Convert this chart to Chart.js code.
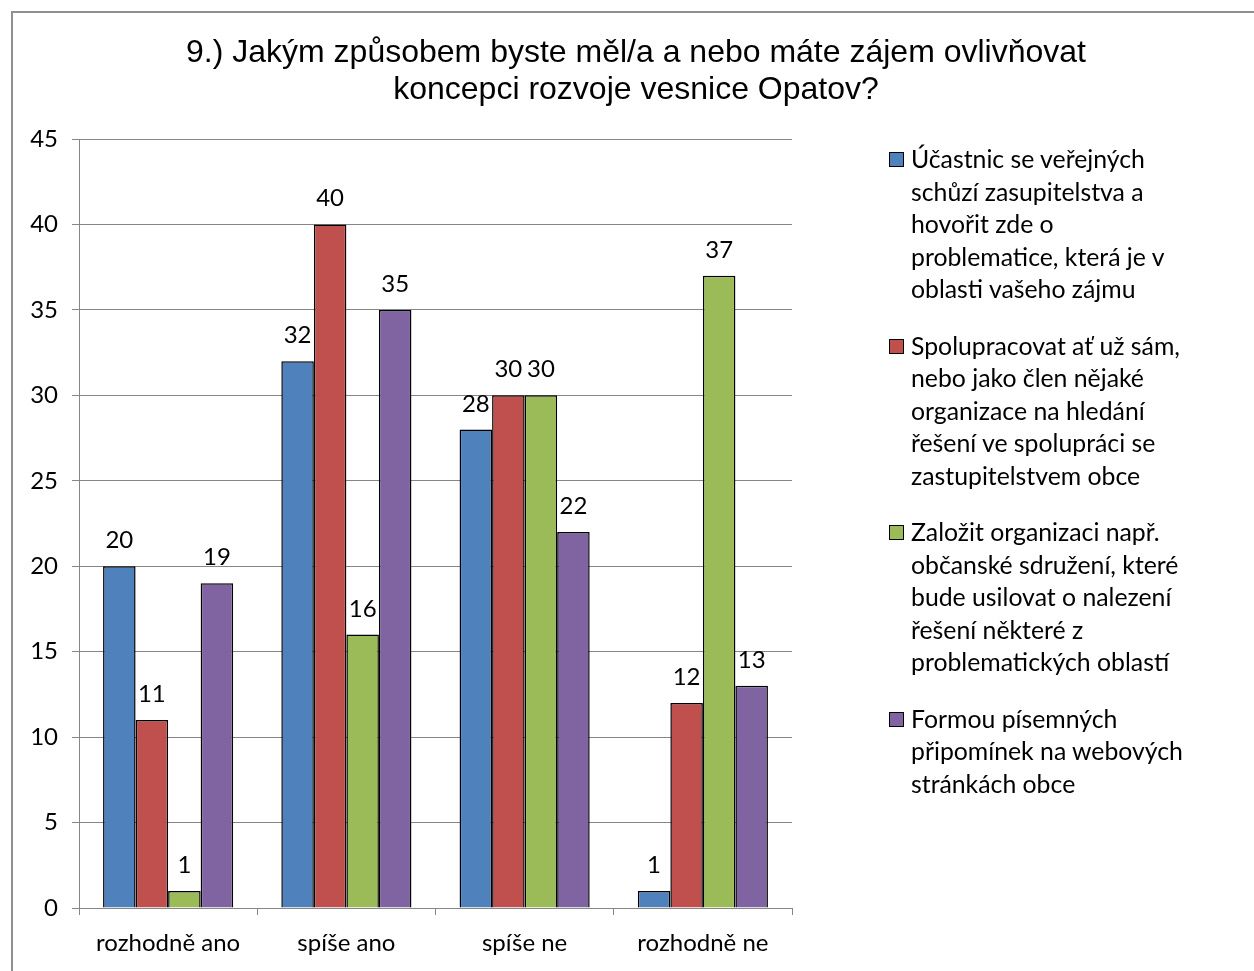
<!DOCTYPE html>
<html>
<head>
<meta charset="utf-8">
<script src="https://cdn.jsdelivr.net/npm/chart.js@4.4.1/dist/chart.umd.min.js"></script>
<style>
  html, body { margin:0; padding:0; width:1254px; height:971px; overflow:hidden; background:#fff; }
  #frame { position:absolute; left:11px; top:11px; width:1400px; height:1100px; border:2px solid #8f8f8f; box-sizing:border-box; }
  #wrap { position:absolute; left:0; top:0; width:1254px; height:971px; }
  #title { position:absolute; left:0; width:1272px; top:33px; text-align:center; font-family:"Liberation Sans", Arial, sans-serif; font-size:32px; line-height:37px; color:#000; }
  #legend { position:absolute; left:889px; top:143px; font-family:Lato, "Open Sans", sans-serif; font-size:24.8px; line-height:32.5px; color:#000; }
  .item { position:relative; padding-left:22px; margin-bottom:24px; }
  .sw { position:absolute; left:0; top:9px; width:13px; height:13px; border:1px solid #000; }
</style>
</head>
<body>
<div id="frame"></div>
<div id="wrap"><canvas id="c" width="1254" height="971"></canvas></div>
<div id="title">9.) Jakým způsobem byste měl/a a nebo máte zájem ovlivňovat<br>koncepci rozvoje vesnice Opatov?</div>
<div id="legend"></div>
<script>
const categories = ["rozhodně ano", "spíše ano", "spíše ne", "rozhodně ne"];
const seriesA = [20, 32, 28, 1];
const seriesB = [11, 40, 30, 12];
const seriesC = [1, 16, 30, 37];
const seriesD = [19, 35, 22, 13];
const legendA = ["Účastnic se veřejných", "schůzí zasupitelstva a", "hovořit zde o", "problematice, která je v", "oblasti vašeho zájmu"];
const legendB = ["Spolupracovat ať už sám,", "nebo jako člen nějaké", "organizace na hledání", "řešení ve spolupráci se", "zastupitelstvem obce"];
const legendC = ["Založit organizaci např.", "občanské sdružení, které", "bude usilovat o nalezení", "řešení některé z", "problematických oblastí"];
const legendD = ["Formou písemných", "připomínek na webových", "stránkách obce"];
const yTicks = [0, 5, 10, 15, 20, 25, 30, 35, 40, 45];
const colors = ["#4F81BD", "#C0504D", "#9BBB59", "#8064A2"];

const FONT = 'Lato, "Open Sans", sans-serif';

const valueLabels = {
  id: 'valueLabels',
  afterDatasetsDraw(chart) {
    const ctx = chart.ctx;
    ctx.save();
    ctx.font = '24px ' + FONT;
    ctx.fillStyle = '#000';
    ctx.textAlign = 'center';
    ctx.textBaseline = 'alphabetic';
    chart.data.datasets.forEach((ds, i) => {
      const meta = chart.getDatasetMeta(i);
      meta.data.forEach((el, j) => {
        ctx.fillText(String(ds.data[j]), el.x, el.y - 18);
      });
    });
    ctx.restore();
  }
};

const legends = [legendA, legendB, legendC, legendD];
const data = {
  labels: categories,
  datasets: [seriesA, seriesB, seriesC, seriesD].map((d, i) => ({
    label: legends[i].join(' '),
    data: d,
    backgroundColor: colors[i],
    borderColor: '#000',
    borderWidth: 1.5,
    borderSkipped: 'bottom',
    categoryPercentage: 0.73,
    barPercentage: 1.0
  }))
};

const chart = new Chart(document.getElementById('c'), {
  type: 'bar',
  data,
  options: {
    responsive: false,
    animation: false,
    devicePixelRatio: 1,
    layout: { padding: { left: 0, right: 462, top: 139, bottom: 0 } },
    plugins: { legend: { display: false }, title: { display: false }, tooltip: { enabled: false } },
    scales: {
      x: {
        grid: { display: true, offset: true, drawOnChartArea: false, color: '#868686', tickLength: 7, lineWidth: 1 },
        border: { color: '#868686', width: 1 },
        ticks: { color: '#000', font: { family: FONT, size: 24 }, padding: 14 },
        afterFit(scale) { scale.height = 63; }
      },
      y: {
        min: 0, max: 45,
        afterBuildTicks(scale) { scale.ticks = yTicks.map(v => ({ value: v })); },
        grid: { color: '#868686', tickLength: 7, lineWidth: 1 },
        border: { color: '#868686', width: 1 },
        ticks: { color: '#000', font: { family: FONT, size: 24 }, padding: 14 },
        afterFit(scale) { scale.width = 79; }
      }
    }
  },
  plugins: [valueLabels]
});

const lg = document.getElementById('legend');
legends.forEach((lines, i) => {
  const it = document.createElement('div');
  it.className = 'item';
  const sw = document.createElement('span');
  sw.className = 'sw';
  sw.style.background = colors[i];
  it.appendChild(sw);
  lines.forEach((ln, k) => {
    if (k) it.appendChild(document.createElement('br'));
    it.appendChild(document.createTextNode(ln));
  });
  lg.appendChild(it);
});
</script>
</body>
</html>
